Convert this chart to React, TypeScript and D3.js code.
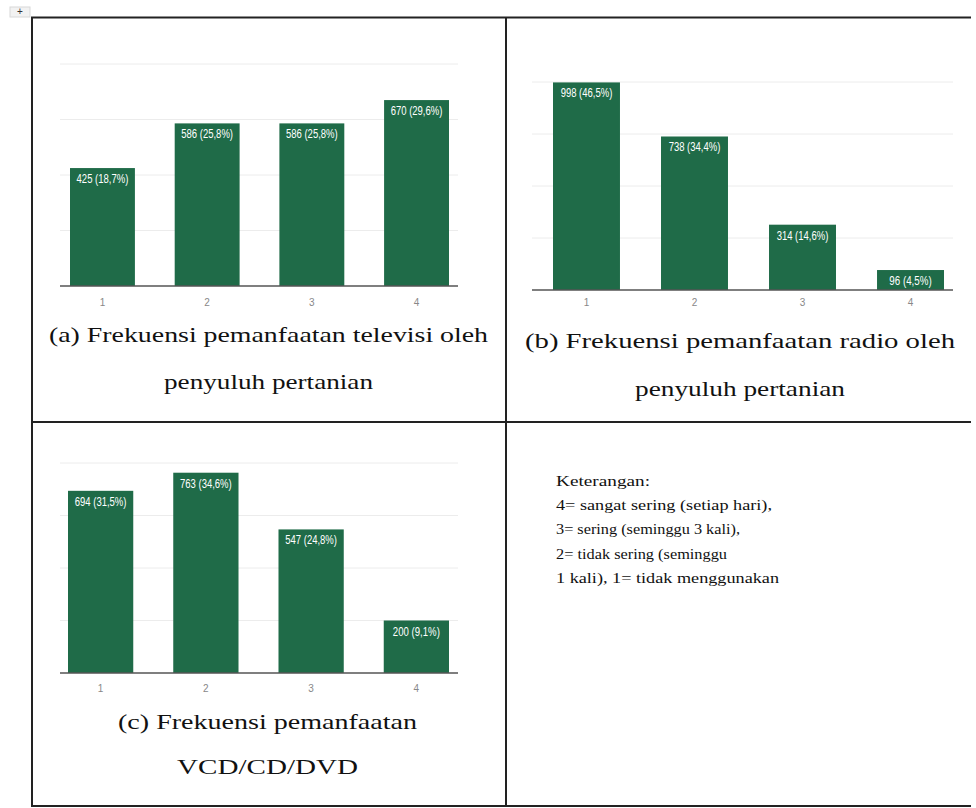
import React from 'react';
import * as d3 from 'd3';

// categories on the x axis (same for all three charts)
const categories = ['1', '2', '3', '4'];

// (a) televisi
const tvValues = [425, 586, 586, 670];
const tvPercents = ['18,7', '25,8', '25,8', '29,6'];
const tvGrid = [200, 400, 600, 800];

// (b) radio
const radioValues = [998, 738, 314, 96];
const radioPercents = ['46,5', '34,4', '14,6', '4,5'];
const radioGrid = [250, 500, 750, 1000];

// (c) VCD/CD/DVD
const vcdValues = [694, 763, 547, 200];
const vcdPercents = ['31,5', '34,6', '24,8', '9,1'];
const vcdGrid = [200, 400, 600, 800];

const captionA = ['(a) Frekuensi pemanfaatan televisi oleh', 'penyuluh pertanian'];
const captionB = ['(b) Frekuensi pemanfaatan radio oleh', 'penyuluh pertanian'];
const captionC = ['(c) Frekuensi pemanfaatan', 'VCD/CD/DVD'];

const legendLines = [
  'Keterangan:',
  '4= sangat sering (setiap hari),',
  '3= sering (seminggu 3 kali),',
  '2= tidak sering (seminggu',
  '1 kali), 1= tidak menggunakan',
];
const legendWidths = [94, 216, 184, 171, 223];

const BAR = '#1f6b48';
const SERIF = "'Liberation Serif', 'Times New Roman', Times, serif";
const SANS = "'Liberation Sans', Arial, sans-serif";

interface PanelProps {
  values: number[];
  percents: string[];
  grid: number[];
  yMax: number;
  barX: [number, number];
  axisX: [number, number];
  baseY: number;
  topY: number;
  tickOffset: number;
}

const BarPanel: React.FC<PanelProps> = ({ values, percents, grid, yMax, barX, axisX, baseY, topY, tickOffset }) => {
  const x = d3.scaleBand<string>().domain(categories).range(barX).paddingInner(0.38).paddingOuter(0);
  const y = d3.scaleLinear().domain([0, yMax]).range([baseY, topY]);

  return (
    <g>
      {grid.map(t => (
        <line key={t} x1={axisX[0]} x2={axisX[1]} y1={y(t)} y2={y(t)} stroke="#ececec" strokeWidth={1} />
      ))}
      {values.map((v, i) => {
        const label = `${v} (${percents[i]}%)`;
        const cx = (x(categories[i]) || 0) + x.bandwidth() / 2;
        return (
          <g key={i}>
            <rect x={x(categories[i])} y={y(v)} width={x.bandwidth()} height={baseY - y(v)} fill={BAR} />
            <text
              x={cx}
              y={y(v) + 15}
              textAnchor="middle"
              fill="#ffffff"
              style={{ fontFamily: SANS, fontSize: 12 }}
              textLength={label.length * 4.7}
              lengthAdjust="spacingAndGlyphs"
            >
              {label}
            </text>
          </g>
        );
      })}
      <line x1={axisX[0]} x2={axisX[1]} y1={baseY} y2={baseY} stroke="#555" strokeWidth={1.5} />
      {categories.map(c => (
        <text
          key={c}
          x={(x(c) || 0) + x.bandwidth() / 2}
          y={baseY + tickOffset}
          textAnchor="middle"
          fill="#888"
          style={{ fontFamily: SANS, fontSize: 10 }}
        >
          {c}
        </text>
      ))}
    </g>
  );
};

const Caption: React.FC<{ lines: string[]; cx: number; ys: number[]; widths: number[] }> = ({ lines, cx, ys, widths }) => (
  <g>
    {lines.map((l, i) => (
      <text
        key={i}
        x={cx}
        y={ys[i]}
        textAnchor="middle"
        fill="#111"
        style={{ fontFamily: SERIF, fontSize: 21.5 }}
        textLength={widths[i]}
        lengthAdjust="spacingAndGlyphs"
      >
        {l}
      </text>
    ))}
  </g>
);

export default function App() {
  return (
    <svg
      width={976}
      height={808}
      style={{ position: 'absolute', left: 0, top: 0, background: '#fff' }}
    >
      {/* table move handle */}
      <rect x={10} y={7} width={20} height={10} fill="#f2f2f2" stroke="#d8d8d8" />
      <text x={20} y={15} textAnchor="middle" style={{ fontFamily: SANS, fontSize: 10 }} fill="#333">+</text>

      {/* table borders */}
      <g stroke="#222" strokeWidth={2}>
        <line x1={31} x2={971} y1={17.5} y2={17.5} />
        <line x1={31} x2={971} y1={422} y2={422} />
        <line x1={31} x2={971} y1={806} y2={806} />
        <line x1={32} x2={32} y1={17} y2={807} />
        <line x1={506} x2={506} y1={17} y2={807} />
      </g>

      <BarPanel values={tvValues} percents={tvPercents} grid={tvGrid} yMax={800}
        barX={[70, 449]} axisX={[60, 458]} baseY={286} topY={64} tickOffset={20} />
      <BarPanel values={radioValues} percents={radioPercents} grid={radioGrid} yMax={1000}
        barX={[553, 944]} axisX={[532, 953]} baseY={290} topY={82} tickOffset={16} />
      <BarPanel values={vcdValues} percents={vcdPercents} grid={vcdGrid} yMax={800}
        barX={[68, 449]} axisX={[60, 458]} baseY={673} topY={463} tickOffset={19} />

      <Caption lines={captionA} cx={268.5} ys={[342, 389]} widths={[439, 209]} />
      <Caption lines={captionB} cx={740} ys={[348, 396]} widths={[430, 210]} />
      <Caption lines={captionC} cx={267.5} ys={[729, 774]} widths={[299, 181]} />

      {legendLines.map((l, i) => (
        <text
          key={i}
          x={556}
          y={486 + i * 24.2}
          fill="#111"
          style={{ fontFamily: SERIF, fontSize: 15 }}
          textLength={legendWidths[i]}
          lengthAdjust="spacingAndGlyphs"
        >
          {l}
        </text>
      ))}
    </svg>
  );
}
